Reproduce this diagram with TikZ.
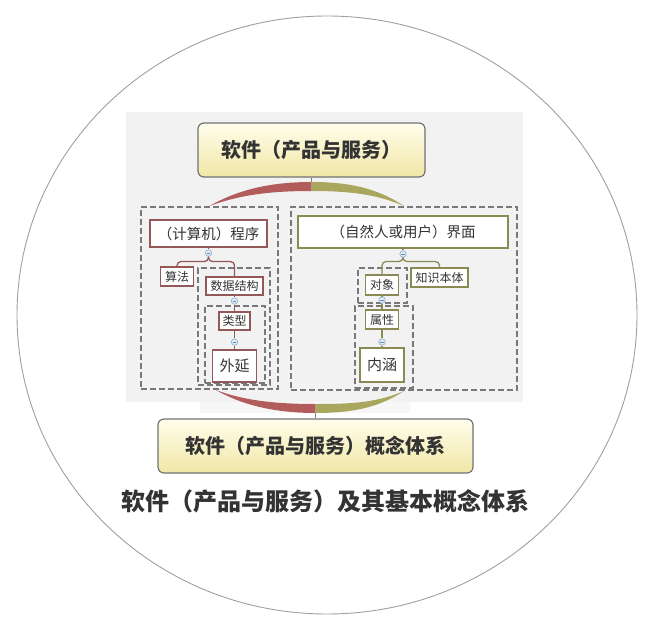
\documentclass[tikz,border=0pt]{standalone}
\usepackage{xcolor}
\usepackage{fontspec}
\setmainfont{Noto Sans CJK SC}
\usepackage{tikz}

\definecolor{txtgray}{HTML}{333333}
\definecolor{panelgray}{HTML}{F2F2F2}
\definecolor{redbr}{HTML}{B35C5C}
\definecolor{olivebr}{HTML}{A9A65E}
\definecolor{redline}{HTML}{955858}
\definecolor{oliveline}{HTML}{8A8A55}
\definecolor{foldblue}{HTML}{8CAFD2}
\definecolor{foldfill}{HTML}{DDEAF7}
\definecolor{creamtop}{HTML}{FFFDEB}
\definecolor{creambot}{HTML}{F1E7A6}

\tikzset{
  titlebox/.style={draw=gray!90!black, line width=1.2pt, rounded corners=6pt,
    top color=creamtop, bottom color=creambot, text=txtgray, inner sep=0pt,
    minimum height=54pt, font=\fontsize{20}{24}\selectfont\bfseries},
  lnode/.style={draw=redline, line width=1.3pt, fill=white, text=txtgray, inner sep=0pt},
  rnode/.style={draw=oliveline, line width=1.3pt, fill=white, text=txtgray, inner sep=0pt},
  grp/.style={draw=gray!95!black, line width=2pt, dash pattern=on 6pt off 3pt, inner sep=0pt},
  lline/.style={draw=redline, line width=1.3pt},
  rline/.style={draw=oliveline, line width=1.3pt},
  fold/.style={circle, draw=foldblue, fill=foldfill, line width=0.6pt, inner sep=0pt, minimum size=6.5pt},
  big/.style={font=\fontsize{14.5}{17}\selectfont},
  small/.style={font=\fontsize{12}{14}\selectfont},
}

\begin{document}
\begin{tikzpicture}[x=1pt, y=-1pt]
  \useasboundingbox (0,0) rectangle (653,631);

  % outer ring and gray panel
  \draw[gray!75, line width=0.9pt] (327,315) ellipse [x radius=310, y radius=299];
  \fill[panelgray] (126,112) rectangle (523,402);
  \fill[panelgray!60] (200,402) rectangle (410,413);

  % groups
  \node[grp, minimum width=137pt, minimum height=182pt] (gL) at (209.5,298) {};
  \node[grp, minimum width=72pt, minimum height=117pt] (gDS) at (234,326.5) {};
  \node[grp, minimum width=60pt, minimum height=77pt] (gTY) at (235,344.5) {};
  \node[grp, minimum width=226pt, minimum height=183pt] (gR) at (404,298.5) {};
  \node[grp, minimum width=49pt, minimum height=35pt] (gOB) at (382.5,285.5) {};
  \node[grp, minimum width=58pt, minimum height=82pt] (gAT) at (384,347) {};

  % title boxes
  \node[titlebox, minimum width=227pt] (top) at (311.5,150) {软件（产品与服务）};
  \node[titlebox, minimum width=315pt] (bot) at (315.5,446) {软件（产品与服务）概念体系};

  % left side
  \node[lnode, big, minimum width=117pt, minimum height=27pt] (prog) at (208.5,233.5) {（计算机）程序};
  \node[lnode, small, minimum width=33pt, minimum height=19pt] (algo) at (177,276.5) {算法};
  \node[lnode, small, minimum width=57pt, minimum height=18pt] (ds) at (234.5,286) {数据结构};
  \node[lnode, small, minimum width=31pt, minimum height=18pt] (type) at (234.5,321) {类型};
  \node[lnode, font=\fontsize{15}{18}\selectfont, minimum width=44pt, minimum height=32pt] (ext) at (234.5,366) {外延};

  % right side
  \node[rnode, big, minimum width=210pt, minimum height=32pt] (ui) at (403,232) {（自然人或用户）界面};
  \node[rnode, small, minimum width=33pt, minimum height=20pt] (obj) at (382,285) {对象};
  \node[rnode, small, minimum width=57pt, minimum height=19pt] (know) at (439.5,277.5) {知识本体};
  \node[rnode, small, minimum width=33pt, minimum height=19pt] (attr) at (382,319.5) {属性};
  \node[rnode, font=\fontsize{15}{18}\selectfont, minimum width=44pt, minimum height=34pt] (conn) at (382,365) {内涵};

  % fold buttons
  \node[fold] (cL1) at (208.5,253) {};
  \node[fold] (cL2) at (234.5,301) {};
  \node[fold] (cL3) at (234.5,342) {};
  \node[fold] (cR1) at (403,254) {};
  \node[fold] (cR2) at (382,300) {};
  \node[fold] (cR3) at (382,342) {};

  % hubs of the big branches
  \coordinate (hubTa) at (311.5,182);
  \coordinate (hubTb) at (311.5,191);
  \coordinate (hubBa) at (315.5,404);
  \coordinate (hubBb) at (315.5,413);
  \coordinate (endBL) at (216,390);

  % connectors, left
  \draw[lline] (prog.south) -- (cL1.north);
  \draw[lline, rounded corners=4pt] (cL1.south) -- ++(0,5) -| (algo.north);
  \draw[lline, rounded corners=4pt] (cL1.south) -- ++(0,5) -| (ds.north);
  \draw[lline] (ds.south) -- (cL2.north);
  \draw[lline] (cL2.south) -- (type.north);
  \draw[lline] (type.south) -- (cL3.north);
  \draw[lline] (cL3.south) -- (ext.north);

  % connectors, right
  \draw[rline] (ui.south) -- (cR1.north);
  \draw[rline, rounded corners=4pt] (cR1.south) -- ++(0,4) -| (obj.north);
  \draw[rline, rounded corners=4pt] (cR1.south) -- ++(0,4) -| (know.north);
  \draw[rline] (obj.south) -- (cR2.north);
  \draw[rline] (cR2.south) -- (attr.north);
  \draw[rline] (attr.south) -- (cR3.north);
  \draw[rline] (cR3.south) -- (conn.north);

  % minus signs in the fold buttons
  \foreach \c in {cL1,cL2,cL3,cR1,cR2,cR3}
    \draw[foldblue!80!black, line width=0.6pt] ([xshift=-1.8pt]\c.center) -- ([xshift=1.8pt]\c.center);

  % big branches, top
  \draw[gray, line width=0.8pt] (top.south) -- (hubTa);
  \fill[redbr] (hubTa) .. controls +(-42,0) and +(28,-16) .. (gL.north)
      .. controls +(30,-11) and +(-42,0) .. (hubTb) -- cycle;
  \fill[olivebr] (hubTa) .. controls +(42,0) and +(-24,-16) .. (gR.north)
      .. controls +(-26,-11) and +(42,0) .. (hubTb) -- cycle;

  % big branches, bottom
  \fill[redbr] (endBL) .. controls +(26,10) and +(-42,0) .. (hubBa)
      -- (hubBb) .. controls +(-45,0) and +(22,13) .. (endBL) -- cycle;
  \fill[olivebr] (gR.south) .. controls +(-26,11) and +(40,0) .. (hubBa)
      -- (hubBb) .. controls +(44,0) and +(-22,14) .. (gR.south) -- cycle;
  \draw[gray, line width=0.8pt] (hubBb) -- (bot.north);

  % caption
  \node[text=txtgray, font=\fontsize{24}{28}\selectfont\bfseries] (cap) at (325,501) {软件（产品与服务）及其基本概念体系};
\end{tikzpicture}
\end{document}
